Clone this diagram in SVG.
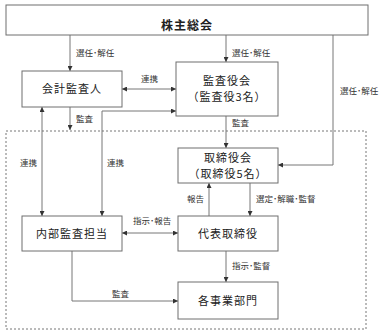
<svg xmlns="http://www.w3.org/2000/svg" width="387" height="336" viewBox="0 0 387 336">
<style>
.box{fill:#fff;stroke:#6e6e6e;stroke-width:1}
.t{font-family:"Noto Sans CJK JP","Noto Sans CJK SC",sans-serif;font-size:11px;letter-spacing:1px;fill:#222;text-anchor:middle}
.b{font-weight:bold;font-size:12px}
.l{font-family:"Noto Sans CJK JP","Noto Sans CJK SC",sans-serif;font-size:8.5px;fill:#333}
.c{fill:none;stroke:#777;stroke-width:1}
.dash{fill:none;stroke:#777;stroke-width:1;stroke-dasharray:2,2}
</style>
<defs>
<marker id="ah" markerWidth="5" markerHeight="5" refX="5" refY="2.5" orient="auto" markerUnits="userSpaceOnUse">
<path d="M0,0 L5,2.5 L0,5 Z" fill="#333"/>
</marker>
<marker id="as" markerWidth="5" markerHeight="5" refX="0" refY="2.5" orient="auto" markerUnits="userSpaceOnUse">
<path d="M5,0 L0,2.5 L5,5 Z" fill="#333"/>
</marker>
</defs>
<rect width="387" height="336" fill="#fff"/>
<rect class="dash" x="6" y="131" width="360" height="198"/>
<g id="connectors">
<path class="c" d="M70,35 V71" marker-end="url(#ah)"/>
<path class="c" d="M226,35 V62" marker-end="url(#ah)"/>
<path class="c" d="M333,35 V165 H278" marker-end="url(#ah)"/>
<path class="c" d="M122,89 H176" marker-start="url(#as)" marker-end="url(#ah)"/>
<path class="c" d="M102,216 V111 H176" marker-start="url(#as)" marker-end="url(#ah)"/>
<path class="c" d="M42,107 V216" marker-start="url(#as)" marker-end="url(#ah)"/>
<path class="c" d="M70,107 V130" marker-end="url(#ah)"/>
<path class="c" d="M226,116 V148" marker-end="url(#ah)"/>
<path class="c" d="M209,216 V183" marker-end="url(#ah)"/>
<path class="c" d="M250,183 V216" marker-end="url(#ah)"/>
<path class="c" d="M122,233 H178" marker-start="url(#as)" marker-end="url(#ah)"/>
<path class="c" d="M226,251 V282" marker-end="url(#ah)"/>
<path class="c" d="M72,251 V301 H178" marker-end="url(#ah)"/>
<text class="l" x="76" y="56">選任･解任</text>
<text class="l" x="232" y="56">選任･解任</text>
<text class="l" x="340" y="94">選任･解任</text>
<text class="l" x="141" y="82">連携</text>
<text class="l" x="76" y="122">監査</text>
<text class="l" x="232" y="126">監査</text>
<text class="l" x="20" y="166">連携</text>
<text class="l" x="107" y="166">連携</text>
<text class="l" x="187" y="202">報告</text>
<text class="l" x="256" y="202">選定･解職･監督</text>
<text class="l" x="133" y="224">指示･報告</text>
<text class="l" x="232" y="269">指示･監督</text>
<text class="l" x="112" y="297">監査</text>
</g>
<g id="n-shareholders"><rect class="box" x="6" y="5" width="362" height="30"/><text class="t b" x="187" y="29.5">株主総会</text></g>
<g id="n-auditor"><rect class="box" x="22" y="71" width="100" height="36"/><text class="t" x="72" y="93">会計監査人</text></g>
<g id="n-kansayaku"><rect class="box" x="176" y="62" width="102" height="54"/><text class="t" x="227" y="85">監査役会</text><text class="t" x="227" y="101">（監査役3名）</text></g>
<g id="n-board"><rect class="box" x="178" y="148" width="100" height="35"/><text class="t" x="228" y="161.5">取締役会</text><text class="t" x="228" y="177.5">（取締役5名）</text></g>
<g id="n-internal"><rect class="box" x="22" y="216" width="100" height="35"/><text class="t" x="72" y="237.5">内部監査担当</text></g>
<g id="n-ceo"><rect class="box" x="178" y="216" width="100" height="35"/><text class="t" x="228" y="237.5">代表取締役</text></g>
<g id="n-divisions"><rect class="box" x="178" y="282" width="100" height="37"/><text class="t" x="228" y="304.5">各事業部門</text></g>
</svg>
